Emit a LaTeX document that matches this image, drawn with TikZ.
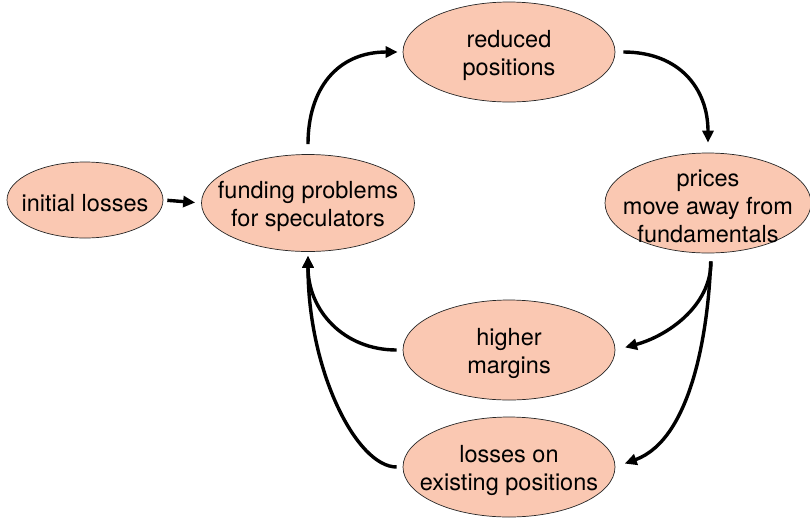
\documentclass[tikz,border=0pt]{standalone}
\usepackage{fontspec}
\setmainfont{TeX Gyre Heros}
\usetikzlibrary{shapes.geometric,arrows.meta}
\definecolor{peach}{RGB}{250,200,178}
\begin{document}
\begin{tikzpicture}[x=1pt,y=1pt,
  ell/.style={ellipse, draw=black!85, line width=0.7pt, fill=peach, inner sep=0pt,
              minimum width=212pt, minimum height=100pt},
  txt/.style={align=center, inner sep=0pt, yshift=-3pt, font=\fontsize{23.5}{28}\selectfont},
  arr/.style={line width=3.4pt, -{Triangle[length=12pt,width=11pt]}}]
\useasboundingbox (0,0) rectangle (810,-523);
\node[ell, minimum width=156pt, minimum height=76pt,
      label={[txt]center:initial losses}] (init) at (85,-200) {};
\node[ell, minimum width=213pt, minimum height=97pt,
      label={[txt]center:funding problems\\for speculators}] (fund) at (308,-203) {};
\node[ell, label={[txt]center:reduced\\positions}] (red) at (509,-52) {};
\node[ell, minimum width=206pt,
      label={[txt]center:prices\\move away from\\fundamentals}] (price) at (708,-203) {};
\node[ell, label={[txt]center:higher\\margins}] (marg) at (509,-350) {};
\node[ell, label={[txt]center:losses on\\existing positions}] (loss) at (509,-467) {};

\draw[arr, shorten <=4pt, shorten >=6pt] (init.east) -- (fund.west);
\draw[arr, shorten <=10pt, shorten >=5pt] (fund.north) to[out=90,in=180,looseness=1.2] (red.west);
\draw[arr, shorten <=8pt, shorten >=10pt] (red.east) to[out=0,in=90,looseness=1.2] (price.north);
\draw[arr, shorten <=8pt, shorten >=10pt] ([xshift=3pt]price.south) to[out=-90,in=15] (marg.east);
\draw[arr, shorten <=8pt, shorten >=10pt] ([xshift=3pt]price.south) to[out=-92,in=20,out looseness=0.8,in looseness=0.9] (loss.east);
\draw[arr, shorten <=6pt, shorten >=4pt] (marg.west) to[out=180,in=-90,looseness=1.1] (fund.south);
\draw[arr, shorten <=6pt, shorten >=4pt] (loss.west) to[out=180,in=-90,out looseness=0.5,in looseness=1.3] (fund.south);
\end{tikzpicture}
\end{document}
